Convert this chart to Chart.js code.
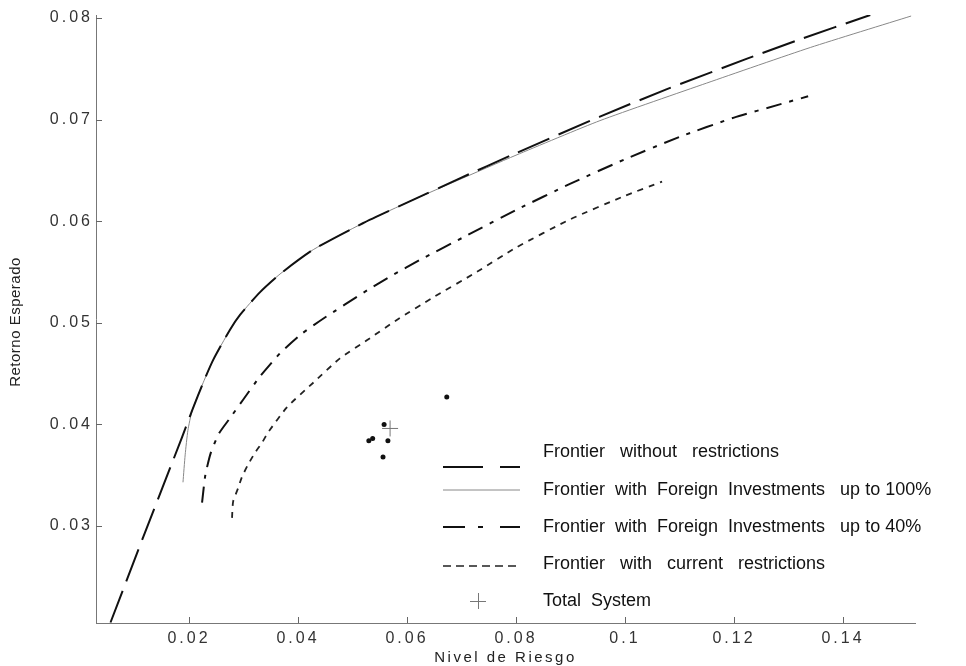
<!DOCTYPE html>
<html>
<head>
<meta charset="utf-8">
<script src="https://cdn.jsdelivr.net/npm/chart.js@4/dist/chart.umd.min.js"></script>
<style>
  html, body { margin: 0; padding: 0; background: #fff; }
  #wrap { width: 966px; height: 666px; position: relative; }
</style>
</head>
<body>
<div id="wrap"><canvas id="chart"></canvas></div>
<script>
// Frontera sin restricciones
const riskFree = [0.0056, 0.0116, 0.0187, 0.0206, 0.0226, 0.0244, 0.0275, 0.0294, 0.0330, 0.0367, 0.0428, 0.0519, 0.0611, 0.0692, 0.0800, 0.0954, 0.1077, 0.1224, 0.1321, 0.1450];
const retFree  = [0.0205, 0.0289, 0.0387, 0.0414, 0.0441, 0.0463, 0.0493, 0.0508, 0.0530, 0.0548, 0.0572, 0.0598, 0.0621, 0.0641, 0.0667, 0.0703, 0.0730, 0.0760, 0.0779, 0.0803];

// Inversiones extranjeras hasta 100%
const risk100 = [0.0189, 0.0193, 0.0198, 0.0206, 0.0226, 0.0244, 0.0275, 0.0294, 0.0330, 0.0367, 0.0428, 0.0519, 0.0611, 0.0692, 0.0800, 0.0954, 0.1150, 0.1340, 0.1525];
const ret100  = [0.0343, 0.0370, 0.0394, 0.0414, 0.0441, 0.0463, 0.0493, 0.0508, 0.0530, 0.0548, 0.0572, 0.0598, 0.0621, 0.0640, 0.0665, 0.0699, 0.0736, 0.0771, 0.0802];

// Inversiones extranjeras hasta 40%
const risk40 = [0.0224, 0.0230, 0.0240, 0.0255, 0.0275, 0.0299, 0.0330, 0.0367, 0.0404, 0.0446, 0.0527, 0.0574, 0.0624, 0.0710, 0.0800, 0.0900, 0.1000, 0.1100, 0.1200, 0.1284, 0.1336];
const ret40  = [0.0323, 0.0350, 0.0372, 0.0391, 0.0406, 0.0424, 0.0447, 0.0470, 0.0488, 0.0504, 0.0532, 0.0547, 0.0562, 0.0586, 0.0611, 0.0637, 0.0661, 0.0683, 0.0702, 0.0715, 0.0723];

// Restricciones actuales
const riskNow = [0.0279, 0.0281, 0.0290, 0.0297, 0.0308, 0.0321, 0.0334, 0.0345, 0.0380, 0.0428, 0.0477, 0.0527, 0.0582, 0.0648, 0.0728, 0.0800, 0.0900, 0.1000, 0.1068];
const retNow  = [0.0308, 0.0324, 0.0337, 0.0348, 0.0360, 0.0372, 0.0382, 0.0392, 0.0417, 0.0441, 0.0465, 0.0483, 0.0503, 0.0525, 0.0550, 0.0574, 0.0602, 0.0625, 0.0639];

// Fondos individuales y sistema total
const fundRisk = [0.0673, 0.0558, 0.0565, 0.0530, 0.0537, 0.0556];
const fundRet  = [0.0427, 0.0400, 0.0384, 0.0384, 0.0386, 0.0368];
const totalRisk = [0.0569];
const totalRet  = [0.0396];

const xTicks = [0.02, 0.04, 0.06, 0.08, 0.1, 0.12, 0.14];
const yTicks = [0.03, 0.04, 0.05, 0.06, 0.07, 0.08];

const legendLabels = [
  'Frontier   without   restrictions',
  'Frontier  with  Foreign  Investments   up to 100%',
  'Frontier  with  Foreign  Investments   up to 40%',
  'Frontier   with   current   restrictions',
  'Total  System'
];

const pts = (xs, ys) => xs.map((x, i) => ({ x, y: ys[i] }));

// marcas hacia adentro, títulos y leyenda
const decor = {
  id: 'decor',
  beforeDraw(chart) {
    chart.ctx.letterSpacing = '3px';
  },
  afterDraw(chart) {
    const ctx = chart.ctx, a = chart.chartArea;
    const xs = chart.scales.x, ys = chart.scales.y;
    ctx.save();
    ctx.strokeStyle = '#666';
    ctx.lineWidth = 1;
    ctx.beginPath();
    xs.ticks.forEach(t => {
      const px = Math.round(xs.getPixelForValue(t.value)) + 0.5;
      ctx.moveTo(px, a.bottom); ctx.lineTo(px, a.bottom - 6);
    });
    ys.ticks.forEach(t => {
      const py = Math.round(ys.getPixelForValue(t.value)) + 0.5;
      ctx.moveTo(a.left, py); ctx.lineTo(a.left + 6, py);
    });
    ctx.stroke();

    // títulos
    ctx.fillStyle = '#222';
    ctx.textAlign = 'center';
    ctx.textBaseline = 'middle';
    ctx.letterSpacing = '2.5px';
    ctx.font = '15px "Liberation Sans", Arial, sans-serif';
    ctx.fillText('Nivel de Riesgo', (a.left + a.right) / 2, a.bottom + 35);
    ctx.letterSpacing = '0.5px';
    ctx.font = '15px "Liberation Sans", Arial, sans-serif';
    ctx.save();
    ctx.translate(16, (a.top + a.bottom) / 2 + 3);
    ctx.rotate(-Math.PI / 2);
    ctx.fillText('Retorno Esperado', 0, 0);
    ctx.restore();
    ctx.letterSpacing = '0px';

    // leyenda
    const lx0 = 443, lx1 = 520, tx = 543;
    const rows = [452, 490, 527, 564, 601];
    const sampleY = [467, 490, 527, 566, 601];
    const styles = [
      { color: '#111', width: 2, dash: [40, 17] },
      { color: '#888', width: 1, dash: [] },
      { color: '#111', width: 2, dash: [22, 13, 5, 17] },
      { color: '#222', width: 1.5, dash: [8, 5] }
    ];
    styles.forEach((s, i) => {
      ctx.beginPath();
      ctx.strokeStyle = s.color;
      ctx.lineWidth = s.width;
      ctx.setLineDash(s.dash);
      ctx.moveTo(lx0, sampleY[i]); ctx.lineTo(lx1, sampleY[i]);
      ctx.stroke();
    });
    ctx.setLineDash([]);
    ctx.strokeStyle = '#777';
    ctx.lineWidth = 1;
    ctx.beginPath();
    ctx.moveTo(478 - 8, sampleY[4] + 0.5); ctx.lineTo(478 + 8, sampleY[4] + 0.5);
    ctx.moveTo(478.5, sampleY[4] - 8); ctx.lineTo(478.5, sampleY[4] + 8);
    ctx.stroke();

    ctx.textAlign = 'left';
    ctx.font = '18px "Liberation Sans", Arial, sans-serif';
    ctx.fillStyle = '#111';
    legendLabels.forEach((t, i) => ctx.fillText(t, tx, rows[i]));
    ctx.restore();
  }
};

new Chart(document.getElementById('chart'), {
  type: 'scatter',
  data: {
    datasets: [
      {
        label: legendLabels[0],
        data: pts(riskFree, retFree),
        showLine: true, borderColor: '#111', borderWidth: 2,
        borderDash: [34, 10], pointRadius: 0, tension: 0.2
      },
      {
        label: legendLabels[1],
        data: pts(risk100, ret100),
        showLine: true, borderColor: '#888', borderWidth: 1,
        pointRadius: 0, tension: 0.2
      },
      {
        label: legendLabels[2],
        data: pts(risk40, ret40),
        showLine: true, borderColor: '#111', borderWidth: 2,
        borderDash: [16, 8, 4, 8], pointRadius: 0, tension: 0.2
      },
      {
        label: legendLabels[3],
        data: pts(riskNow, retNow),
        showLine: true, borderColor: '#222', borderWidth: 1.8,
        borderDash: [6, 6], pointRadius: 0, tension: 0.2
      },
      {
        label: 'Funds',
        data: pts(fundRisk, fundRet),
        pointRadius: 2.5, pointBackgroundColor: '#111', pointBorderColor: '#111', pointBorderWidth: 0
      },
      {
        label: legendLabels[4],
        data: pts(totalRisk, totalRet),
        pointStyle: 'cross', pointRadius: 8, pointBorderColor: '#777', pointBorderWidth: 1
      }
    ]
  },
  options: {
    responsive: true, maintainAspectRatio: false,
    animation: false,
    layout: { padding: { top: 15, right: 51, left: 0, bottom: 0 } },
    plugins: { legend: { display: false }, tooltip: { enabled: false } },
    scales: {
      x: {
        type: 'linear', min: 0.00294, max: 0.15321,
        afterFit: s => { s.height = 43; },
        afterBuildTicks: s => { s.ticks = xTicks.map(v => ({ value: v })); },
        grid: { display: false, drawTicks: false },
        border: { display: true, color: '#777', width: 1 },
        ticks: {
          color: '#333', padding: 6, maxRotation: 0, autoSkip: false,
          font: { family: '"Liberation Sans", Arial, sans-serif', size: 16 },
          callback: v => String(+v.toFixed(2))
        }
      },
      y: {
        type: 'linear', min: 0.02045, max: 0.0803,
        afterFit: s => { s.width = 96; },
        afterBuildTicks: s => { s.ticks = yTicks.map(v => ({ value: v })); },
        grid: { display: false, drawTicks: false },
        border: { display: true, color: '#777', width: 1 },
        ticks: {
          color: '#333', padding: 3, autoSkip: false,
          font: { family: '"Liberation Sans", Arial, sans-serif', size: 16 },
          callback: v => v.toFixed(2)
        }
      }
    }
  },
  plugins: [decor]
});
</script>
</body>
</html>
